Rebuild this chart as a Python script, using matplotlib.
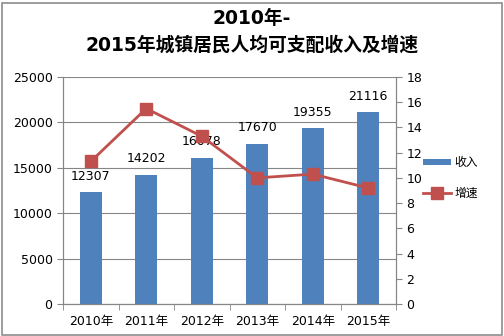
import matplotlib
matplotlib.use("Agg")
import matplotlib.pyplot as plt
from matplotlib.patches import Rectangle
import numpy as np

plt.rcParams['font.family'] = ['DejaVu Sans', 'Noto Sans CJK SC']

years = ["2010年", "2011年", "2012年", "2013年", "2014年", "2015年"]
income = [12307, 14202, 16078, 17670, 19355, 21116]
growth = [11.3, 15.5, 13.3, 10.0, 10.3, 9.2]

bar_color = "#4F81BD"
line_color = "#C0504D"
grid_color = "#868686"

fig = plt.figure(figsize=(5.04, 3.36), dpi=100)
ax = fig.add_axes([63 / 504, 1 - 304 / 336, 333 / 504, 227 / 336])
ax2 = ax.twinx()

x = np.arange(len(years))
bars = ax.bar(x, income, width=0.4, color=bar_color, zorder=2, label="收入")
for xi, v in zip(x, income):
    ax.annotate(f"{v}", (xi, v), xytext=(0, 7), textcoords="offset points",
                ha="center", va="bottom", fontsize=9)

ax.set_xlim(-0.5, len(years) - 0.5)
ax.set_ylim(0, 25000)
ax.set_yticks(np.arange(0, 25001, 5000))
ax.yaxis.grid(True, color=grid_color, linewidth=0.8, zorder=0)
ax.set_axisbelow(True)
ax.set_xticks(x)
ax.set_xticklabels(years)
ax.set_xticks(np.arange(-0.5, len(years), 1.0), minor=True)
ax.tick_params(axis="x", which="major", length=0, pad=8, labelsize=9)
ax.tick_params(axis="x", which="minor", length=4, color=grid_color, direction="out")
ax.tick_params(axis="y", length=4, color=grid_color, labelsize=9)

ax2.plot(x, growth, color=line_color, linewidth=2, marker="s", markersize=8,
         zorder=3, label="增速")
ax2.set_ylim(0, 18)
ax2.set_yticks(np.arange(0, 19, 2))
ax2.tick_params(axis="y", length=4, color=grid_color, labelsize=9)

for a in (ax, ax2):
    for s in a.spines.values():
        s.set_color(grid_color)
        s.set_linewidth(0.8)
    a.spines["top"].set_visible(False)

fig.legend(handles=[bars, ax2.lines[0]], labels=["收入", "增速"],
           loc="center left", bbox_to_anchor=(412 / 504, 1 - 178 / 336),
           frameon=False, fontsize=8.5, handlelength=2.4, handleheight=0.5,
           labelspacing=1.5, handletextpad=0.3)

fig.text(0.5, 1 - 18 / 336, "2010年-", ha="center", va="center",
         fontsize=13.5, fontweight="bold")
fig.text(0.5, 1 - 45 / 336, "2015年城镇居民人均可支配收入及增速", ha="center",
         va="center", fontsize=13.5, fontweight="bold")

fig.patches.append(Rectangle((1.5 / 504, 1.5 / 336), 500 / 504, 332 / 336,
                             transform=fig.transFigure, fill=False,
                             edgecolor="#8C8C8C", linewidth=1.2))

fig.savefig("out.png", dpi=100)
